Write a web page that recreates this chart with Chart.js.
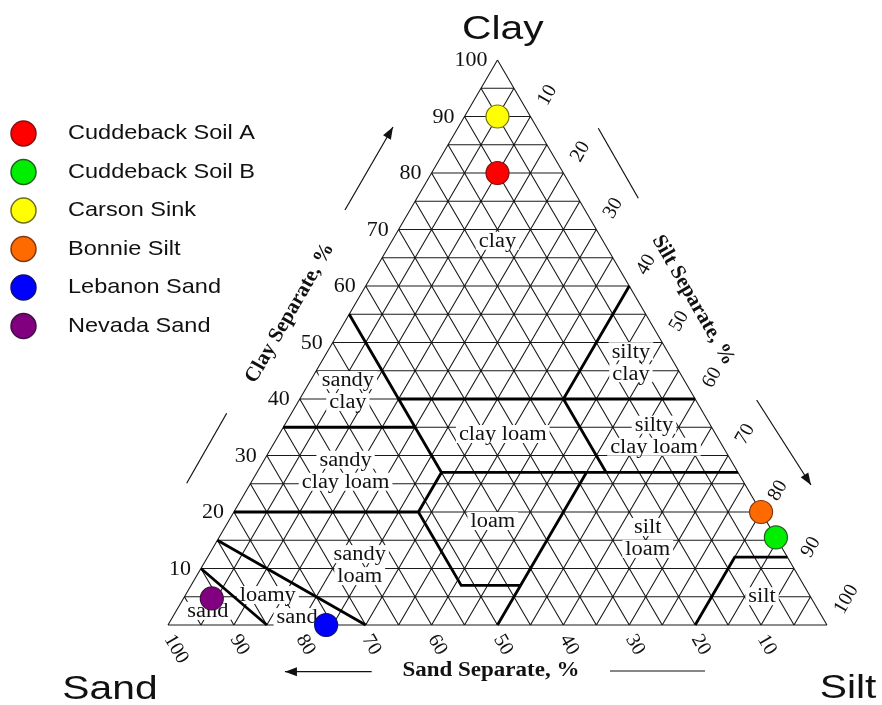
<!DOCTYPE html>
<html>
<head>
<meta charset="utf-8">
<script src="https://cdn.jsdelivr.net/npm/chart.js@4.4.0/dist/chart.umd.min.js"></script>
<style>
  html, body { margin: 0; padding: 0; background: #fff; }
  #wrap { width: 882px; height: 705px; position: relative; }
</style>
</head>
<body>
<div id="wrap"><canvas id="soil"></canvas></div>
<script>
// soil samples, percent sand / silt / clay
const sampleNames = ["Cuddeback Soil A", "Cuddeback Soil B", "Carson Sink", "Bonnie Silt", "Lebanon Sand", "Nevada Sand"];
const sampleSand = [10, 0, 5, 0, 76, 91];
const sampleSilt = [10, 84.5, 5, 80, 24, 4.3];
const sampleClay = [80, 15.5, 90, 20, 0, 4.7];
const sampleColors = ["#ff0000", "#00ee00", "#ffff00", "#ff6a00", "#0000ff", "#800080"];
const sampleEdges = ["#801010", "#206020", "#707010", "#803810", "#101070", "#401040"];

const tickValues = [10, 20, 30, 40, 50, 60, 70, 80, 90, 100];
const gridStep = 5;

// USDA texture class boundaries, polylines of [sand, silt, clay]
const classBoundaries = [
  [[45, 0, 55], [45, 28, 27]],
  [[45, 15, 40], [0, 60, 40]],
  [[0, 40, 60], [20, 40, 40], [20, 53, 27]],
  [[65, 0, 35], [45, 20, 35]],
  [[45, 28, 27], [0, 73, 27]],
  [[80, 0, 20], [52, 28, 20], [45, 28, 27]],
  [[52, 28, 20], [52, 41, 7], [43, 50, 7]],
  [[50, 50, 0], [23, 50, 27]],
  [[20, 80, 0], [8, 80, 12], [0, 88, 12]],
  [[85, 0, 15], [70, 30, 0]],
  [[90, 0, 10], [85, 15, 0]]
];

const classNames = ["clay", "silty\nclay", "sandy\nclay", "clay loam", "silty\nclay loam", "sandy\nclay loam",
  "loam", "silt\nloam", "sandy\nloam", "loamy", "sand", "sand", "silt"];
const classAnchors = [[16, 16, 68], [6.5, 47, 46.5], [52, 6.6, 41.4], [32.3, 33.9, 33.8], [9.5, 57, 33.5], [59.4, 13.3, 27.3],
  [41.5, 40.1, 18.4], [19.5, 65.1, 15.4], [65.6, 23.8, 10.6], [82.2, 12.5, 5.3], [79.7, 18.9, 1.4], [92.7, 4.8, 2.5], [7.3, 87.6, 5.1]];

function toXY(sand, silt, clay) {
  return { x: silt + clay / 2, y: clay };
}

const gridData = [];
function seg(a, b) {
  gridData.push(toXY(...a), toXY(...b), { x: null, y: null });
}
seg([100, 0, 0], [0, 100, 0]);
seg([0, 100, 0], [0, 0, 100]);
seg([0, 0, 100], [100, 0, 0]);
for (let k = gridStep; k < 100; k += gridStep) {
  seg([100 - k, 0, k], [0, 100 - k, k]);
  seg([100 - k, k, 0], [0, k, 100 - k]);
  seg([k, 100 - k, 0], [k, 0, 100 - k]);
}

const boundaryData = [];
classBoundaries.forEach((line) => {
  line.forEach((p) => boundaryData.push(toXY(...p)));
  boundaryData.push({ x: null, y: null });
});

const serif = '"Liberation Serif", "Times New Roman", serif';
const sans = '"Liberation Sans", Arial, sans-serif';

function drawText(ctx, text, x, y, font, align, sx) {
  ctx.save();
  ctx.translate(x, y);
  ctx.scale(sx, 1);
  ctx.font = font;
  ctx.textAlign = align;
  ctx.fillText(text, 0, 0);
  ctx.restore();
}

function arrow(ctx, a, b, head) {
  ctx.beginPath();
  ctx.moveTo(a.x, a.y);
  ctx.lineTo(b.x, b.y);
  ctx.stroke();
  if (head) {
    const ang = Math.atan2(b.y - a.y, b.x - a.x);
    const c = Math.cos(ang), s = Math.sin(ang);
    const L = 12, W = 4.5;
    ctx.beginPath();
    ctx.moveTo(b.x, b.y);
    ctx.lineTo(b.x - L * c + W * s, b.y - L * s - W * c);
    ctx.lineTo(b.x - L * c - W * s, b.y - L * s + W * c);
    ctx.closePath();
    ctx.fill();
  }
}

const soilDecor = {
  id: "soilDecor",
  beforeDatasetDraw(chart, args) {
    if (args.index !== 1) return;
    const ctx = chart.ctx;
    const xs = chart.scales.x, ys = chart.scales.y;
    ctx.save();
    ctx.font = "20px " + serif;
    ctx.textBaseline = "middle";
    classNames.forEach((name, i) => {
      const p = toXY(...classAnchors[i]);
      const cx = xs.getPixelForValue(p.x), cy = ys.getPixelForValue(p.y);
      const lines = name.split("\n");
      const top = cy - (lines.length - 1) * 11;
      lines.forEach((ln, j) => {
        const w = ctx.measureText(ln).width * 1.12;
        ctx.fillStyle = "#fff";
        ctx.fillRect(cx - w / 2 - 3, top + j * 22 - 9, w + 6, 18);
        ctx.fillStyle = "#111";
        drawText(ctx, ln, cx, top + j * 22 + 1, "20px " + serif, "center", 1.12);
      });
    });
    ctx.restore();
  },
  afterDatasetsDraw(chart) {
    const ctx = chart.ctx;
    const xs = chart.scales.x, ys = chart.scales.y;
    const at = (x, y) => ({ x: xs.getPixelForValue(x), y: ys.getPixelForValue(y) });
    const tern = (a, b, c) => { const p = toXY(a, b, c); return at(p.x, p.y); };
    ctx.save();
    ctx.fillStyle = "#111";
    ctx.strokeStyle = "#111";
    ctx.lineWidth = 1.2;
    ctx.textBaseline = "middle";

    // tick labels
    tickValues.forEach((v) => {
      const pc = tern(100 - v, 0, v);
      drawText(ctx, String(v), pc.x - 10, pc.y + 1, "20px " + serif, "right", 1.1);

      const ps = tern(0, v, 100 - v);
      ctx.save();
      ctx.translate(ps.x, ps.y);
      ctx.rotate(-Math.PI / 3);
      ctx.font = "20px " + serif;
      ctx.textAlign = "left";
      ctx.fillText(String(v), 17, 4);
      ctx.restore();

      const pa = tern(v, 100 - v, 0);
      ctx.save();
      ctx.translate(pa.x, pa.y);
      ctx.rotate(Math.PI / 3);
      ctx.font = "20px " + serif;
      ctx.textAlign = "left";
      ctx.fillText(String(v), 10, 5);
      ctx.restore();
    });

    // corner titles
    ctx.textBaseline = "alphabetic";
    const tClay = at(50.8, 103.7), tSand = at(-8.8, -13.1), tSilt = at(103.2, -12.9);
    drawText(ctx, "Clay", tClay.x, tClay.y, "34px " + sans, "center", 1.2);
    drawText(ctx, "Sand", tSand.x, tSand.y, "34px " + sans, "center", 1.2);
    drawText(ctx, "Silt", tSilt.x, tSilt.y, "34px " + sans, "center", 1.2);

    // axis titles
    const sSep = at(49.0, -9.0);
    drawText(ctx, "Sand Separate, %", sSep.x, sSep.y, "bold 20px " + serif, "center", 1.15);
    ctx.textBaseline = "middle";
    const cSep = at(18.5, 55.2);
    ctx.save();
    ctx.translate(cSep.x, cSep.y);
    ctx.rotate(-Math.PI / 3);
    ctx.font = "bold 21px " + serif;
    ctx.textAlign = "center";
    ctx.fillText("Clay Separate, %", 0, 0);
    ctx.restore();
    const siSep = at(79.7, 57.5);
    ctx.save();
    ctx.translate(siSep.x, siSep.y);
    ctx.rotate(Math.PI / 3);
    ctx.font = "bold 21px " + serif;
    ctx.textAlign = "center";
    ctx.fillText("Silt Separate, %", 0, 0);
    ctx.restore();

    // direction arrows and guide lines
    arrow(ctx, at(26.86, 73.45), at(34.14, 88.14), true);
    arrow(ctx, at(8.91, 37.47), at(2.84, 25.08), false);
    arrow(ctx, at(65.3, 87.91), at(71.37, 75.52), false);
    arrow(ctx, at(89.33, 39.82), at(97.57, 24.78), true);
    arrow(ctx, at(30.91, -8.27), at(17.75, -8.27), true);
    arrow(ctx, at(67.07, -8.14), at(81.49, -8.14), false);

    // legend
    sampleNames.forEach((name, i) => {
      const y = 133.5 + i * 38.5;
      ctx.beginPath();
      ctx.arc(23.5, y, 12.5, 0, Math.PI * 2);
      ctx.fillStyle = sampleColors[i];
      ctx.fill();
      ctx.lineWidth = 1.5;
      ctx.strokeStyle = sampleEdges[i];
      ctx.stroke();
      ctx.fillStyle = "#111";
      drawText(ctx, name, 68, y, "21px " + sans, "left", 1.12);
    });
    ctx.restore();
  }
};

const sampleSets = sampleNames.map((name, i) => ({
  label: name,
  data: [toXY(sampleSand[i], sampleSilt[i], sampleClay[i])],
  backgroundColor: sampleColors[i],
  borderColor: sampleEdges[i],
  borderWidth: 1.2,
  pointRadius: 11.5,
  order: 1
}));

new Chart(document.getElementById("soil"), {
  type: "scatter",
  data: {
    datasets: [
      {
        label: "grid",
        data: gridData,
        showLine: true,
        borderColor: "#1a1a1a",
        borderWidth: 1.1,
        pointRadius: 0,
        spanGaps: false,
        order: 3
      },
      {
        label: "classes",
        data: boundaryData,
        showLine: true,
        borderColor: "#000",
        borderWidth: 2.8,
        pointRadius: 0,
        spanGaps: false,
        order: 2
      },
      ...sampleSets
    ]
  },
  options: {
    responsive: true,
    maintainAspectRatio: false,
    animation: false,
    devicePixelRatio: 1,
    events: [],
    layout: { padding: 0, autoPadding: false },
    plugins: { legend: { display: false }, tooltip: { enabled: false } },
    scales: {
      x: { type: "linear", display: false, min: -25.49, max: 108.35 },
      y: { type: "linear", display: false, min: -14.16, max: 110.62 }
    }
  },
  plugins: [soilDecor]
});
</script>
</body>
</html>
